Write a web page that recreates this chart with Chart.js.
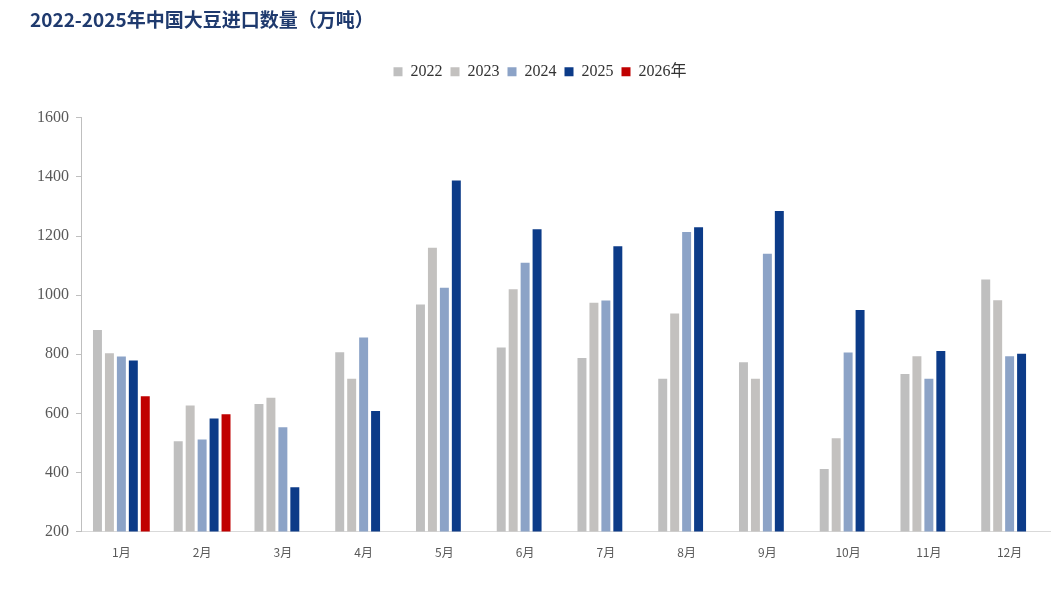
<!DOCTYPE html>
<html>
<head>
<meta charset="utf-8">
<script src="https://cdn.jsdelivr.net/npm/chart.js@4"></script>
<style>
    body { margin: 0; background: #fff; }
    #wrap { width: 1056px; height: 608px; position: relative; }
</style>
</head>
<body>
<div id="wrap"><canvas id="soy-canvas"></canvas></div>
<script>
const months = ["1月", "2月", "3月", "4月", "5月", "6月", "7月", "8月", "9月", "10月", "11月", "12月"];
const y2022 = [882, 506, 632, 807, 968, 823, 787, 717, 773, 412, 733, 1053];
const y2023 = [803, 627, 653, 717, 1160, 1020, 974, 938, 717, 516, 793, 983];
const y2024 = [792, 512, 553, 857, 1025, 1110, 982, 1214, 1140, 806, 717, 793];
const y2025 = [779, 583, 350, 608, 1388, 1223, 1165, 1230, 1285, 950, 811, 802];
const y2026 = [658, 597, null, null, null, null, null, null, null, null, null, null];
const yTicks = [200, 400, 600, 800, 1000, 1200, 1400, 1600];

function bar(label, data, color) {
    return {
        label: label,
        data: data,
        backgroundColor: color,
        borderWidth: 0,
        barPercentage: 0.75,
        categoryPercentage: 0.74,
    };
}

// extra room under the legend
const legendMargin = {
    id: "legendMargin",
    beforeInit(chart) {
        const fit = chart.legend.fit;
        chart.legend.fit = function () {
            fit.bind(chart.legend)();
            this.height += 28;
        };
    },
};

const data = {
    labels: months,
    datasets: [
        bar("2022", y2022, "#bfbfbf"),
        bar("2023", y2023, "#c3c1bf"),
        bar("2024", y2024, "#8ca3c7"),
        bar("2025", y2025, "#0c3b88"),
        bar("2026年", y2026, "#c00000"),
    ],
};

const config = {
    type: "bar",
    data: data,
    plugins: [legendMargin],
    options: {
        responsive: true,
        maintainAspectRatio: false,
        animation: false,
        layout: { padding: { left: 30, right: 6, top: 8, bottom: 42 } },
        plugins: {
            title: {
                display: true,
                text: "2022-2025年中国大豆进口数量（万吨）",
                align: "start",
                color: "#1f3a6e",
                font: { family: "'Noto Sans CJK SC'", size: 19, weight: "bold" },
                padding: { top: 0, bottom: 25 },
            },
            legend: {
                position: "top",
                labels: {
                    boxWidth: 9,
                    boxHeight: 9,
                    padding: 8,
                    color: "#333",
                    font: { family: "'Liberation Serif', 'Noto Sans CJK SC'", size: 16 },
                },
            },
            tooltip: { enabled: false },
        },
        scales: {
            x: {
                grid: { display: false },
                border: { color: "#d9d9d9" },
                ticks: {
                    color: "#595959",
                    font: { family: "'Noto Sans CJK SC'", size: 12 },
                    padding: 6,
                },
            },
            y: {
                min: 200,
                max: 1600,
                afterBuildTicks: (axis) => {
                    axis.ticks = yTicks.map((v) => ({ value: v }));
                },
                grid: { drawOnChartArea: false, drawTicks: true, tickLength: 5, color: "#bfbfbf" },
                border: { color: "#bfbfbf" },
                ticks: {
                    color: "#595959",
                    font: { family: "'Liberation Serif'", size: 16 },
                    padding: 7,
                    callback: (v) => String(v),
                },
            },
        },
    },
};

new Chart(document.querySelector("#soy-canvas"), config);
</script>
</body>
</html>
